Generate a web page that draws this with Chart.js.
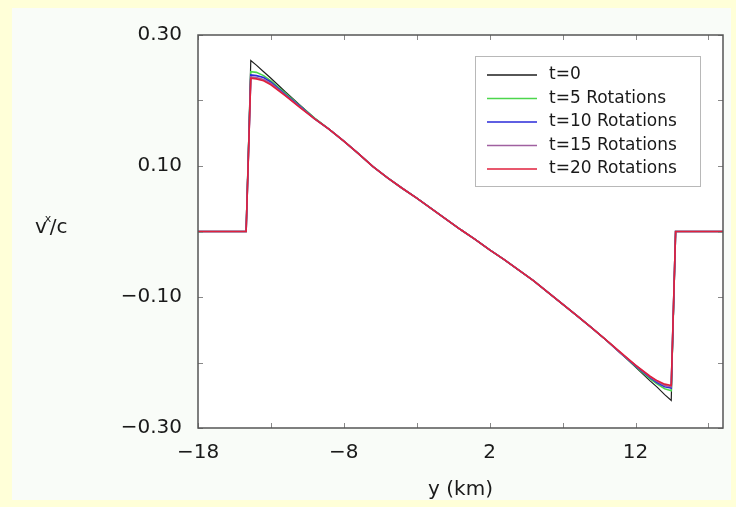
<!DOCTYPE html>
<html>
  <head>
    <title>v^x/c profile</title>
    <script src="https://cdn.jsdelivr.net/npm/chart.js"></script>
    <style>
      body {
        margin: 0;
        background: #ffffd8;
      }
      canvas {
        display: block;
      }
    </style>
  </head>
  <body>
    <canvas id="chart" width="736" height="507"></canvas>

    <script>
      // posiciones y (km) compartidas por todas las curvas
      const yKm = [-18, -14.7, -14.38, -14, -13.5, -13, -12, -11, -10, -9, -8, -7, -6, -5, -4, -3, -2, -1, 0,
        1, 2, 3, 4, 5, 6, 7, 8, 9, 10, 11, 12, 13, 13.5, 14, 14.45, 14.75, 18];

      const vT0 = [0, 0, 0.261, 0.254, 0.244, 0.234, 0.213, 0.193, 0.173, 0.156, 0.138, 0.119, 0.099, 0.082,
        0.066, 0.051, 0.035, 0.019, 0.003, -0.012, -0.028, -0.043, -0.059, -0.075, -0.093, -0.111, -0.129,
        -0.147, -0.166, -0.186, -0.207, -0.228, -0.238, -0.249, -0.258, 0, 0];
      const vT5 = [0, 0, 0.244, 0.243, 0.238, 0.230, 0.211, 0.192, 0.173, 0.156, 0.138, 0.119, 0.099, 0.082,
        0.066, 0.051, 0.035, 0.019, 0.003, -0.012, -0.028, -0.043, -0.059, -0.075, -0.093, -0.111, -0.129,
        -0.147, -0.166, -0.186, -0.206, -0.225, -0.233, -0.240, -0.243, 0, 0];
      const vT10 = [0, 0, 0.239, 0.238, 0.235, 0.228, 0.209, 0.191, 0.172, 0.156, 0.138, 0.119, 0.099, 0.082,
        0.066, 0.051, 0.035, 0.019, 0.003, -0.012, -0.028, -0.043, -0.059, -0.075, -0.093, -0.111, -0.129,
        -0.147, -0.166, -0.186, -0.205, -0.223, -0.231, -0.237, -0.239, 0, 0];
      const vT15 = [0, 0, 0.236, 0.235, 0.232, 0.226, 0.208, 0.190, 0.172, 0.156, 0.138, 0.119, 0.099, 0.082,
        0.066, 0.051, 0.035, 0.019, 0.003, -0.012, -0.028, -0.043, -0.059, -0.075, -0.093, -0.111, -0.129,
        -0.147, -0.166, -0.186, -0.204, -0.222, -0.229, -0.235, -0.237, 0, 0];
      const vT20 = [0, 0, 0.234, 0.233, 0.230, 0.224, 0.207, 0.189, 0.172, 0.156, 0.138, 0.119, 0.099, 0.082,
        0.066, 0.051, 0.035, 0.019, 0.003, -0.012, -0.028, -0.043, -0.059, -0.075, -0.093, -0.111, -0.129,
        -0.147, -0.166, -0.185, -0.204, -0.221, -0.228, -0.233, -0.235, 0, 0];

      const seriesLabels = ["t=0", "t=5 Rotations", "t=10 Rotations", "t=15 Rotations", "t=20 Rotations"];
      const seriesValues = [vT0, vT5, vT10, vT15, vT20];
      const seriesColors = ["#1e1e1e", "#4cd64c", "#2a2ad8", "#a060a0", "#e0203c"];

      const xTickValues = [-18, -13, -8, -3, 2, 7, 12, 17];
      const xTickLabeled = [-18, -8, 2, 12];
      const yTickValues = [-0.3, -0.2, -0.1, 0, 0.1, 0.2, 0.3];
      const yTickLabeled = [0.3, 0.1, -0.1, -0.3];

      const FONT = "'DejaVu Sans', 'Liberation Sans', Arial, sans-serif";

      function has(list, v) {
        return list.some((a) => Math.abs(a - v) < 1e-9);
      }

      // fondo, marco, marcas hacia dentro, leyenda y título del eje y
      const framePlugin = {
        id: "frame",
        beforeDraw(chart) {
          const c = chart.ctx;
          const a = chart.chartArea;
          c.save();
          c.fillStyle = "#ffffd8";
          c.fillRect(0, 0, chart.width, chart.height);
          c.fillStyle = "#f9fcf8";
          c.fillRect(12, 8, 719, 492);
          c.fillStyle = "#ffffff";
          c.fillRect(a.left, a.top, a.right - a.left, a.bottom - a.top);
          c.restore();
        },
        afterDraw(chart) {
          const c = chart.ctx;
          const a = chart.chartArea;
          const xs = chart.scales.x;
          const ys = chart.scales.y;
          c.save();

          // marcas
          c.strokeStyle = "#888";
          c.lineWidth = 1;
          c.beginPath();
          xs.ticks.forEach((t) => {
            const px = Math.round(xs.getPixelForValue(t.value)) + 0.5;
            c.moveTo(px, a.bottom);
            c.lineTo(px, a.bottom - 5);
            c.moveTo(px, a.top);
            c.lineTo(px, a.top + 5);
          });
          ys.ticks.forEach((t) => {
            const py = Math.round(ys.getPixelForValue(t.value)) + 0.5;
            c.moveTo(a.left, py);
            c.lineTo(a.left + 5, py);
            c.moveTo(a.right, py);
            c.lineTo(a.right - 5, py);
          });
          c.stroke();

          // marco
          c.strokeStyle = "#555";
          c.lineWidth = 1.5;
          c.strokeRect(a.left, a.top, a.right - a.left, a.bottom - a.top);

          // leyenda
          c.fillStyle = "#ffffff";
          c.fillRect(475, 56, 225, 130);
          c.strokeStyle = "#b8b8b8";
          c.lineWidth = 1;
          c.strokeRect(475.5, 56.5, 225, 130);
          c.font = "17px " + FONT;
          c.textBaseline = "middle";
          c.textAlign = "left";
          chart.data.datasets.forEach((ds, i) => {
            const ry = 75 + i * 23.5;
            c.strokeStyle = ds.borderColor;
            c.lineWidth = 1.5;
            c.beginPath();
            c.moveTo(487, ry);
            c.lineTo(537, ry);
            c.stroke();
            c.fillStyle = "#1a1a1a";
            c.fillText(ds.label, 549, ry);
          });

          // título del eje y: v^x/c
          c.fillStyle = "#1a1a1a";
          c.textBaseline = "alphabetic";
          c.font = "20px " + FONT;
          c.fillText("v", 35, 233);
          const vw = c.measureText("v").width;
          c.font = "11px " + FONT;
          c.fillText("x", 35 + vw - 2, 222);
          c.font = "20px " + FONT;
          c.fillText("/c", 35 + vw + 3, 233);

          c.restore();
        },
      };

      const ctx = document.getElementById("chart").getContext("2d");
      new Chart(ctx, {
        type: "line",
        data: {
          datasets: seriesLabels.map((label, i) => ({
            label: label,
            data: yKm.map((x, k) => ({ x: x, y: seriesValues[i][k] })),
            borderColor: seriesColors[i],
            borderWidth: i === 0 ? 1.2 : 1.6,
            pointRadius: 0,
            tension: 0,
            fill: false,
            order: seriesLabels.length - 1 - i,
          })),
        },
        options: {
          responsive: false,
          animation: false,
          layout: { padding: { left: 0, right: 13, top: 35, bottom: 0 } },
          plugins: {
            legend: { display: false },
            tooltip: { enabled: false },
          },
          scales: {
            x: {
              type: "linear",
              min: -18,
              max: 18,
              afterBuildTicks: (s) => {
                s.ticks = xTickValues.map((v) => ({ value: v }));
              },
              afterFit: (s) => {
                s.height = 79;
              },
              grid: { display: false, drawTicks: false },
              border: { display: false },
              ticks: {
                autoSkip: false,
                maxRotation: 0,
                padding: 13,
                color: "#1a1a1a",
                font: { family: FONT, size: 20 },
                callback: (v) => (has(xTickLabeled, v) ? String(v).replace("-", "\u2212") : ""),
              },
              title: {
                display: true,
                text: "y (km)",
                color: "#1a1a1a",
                font: { family: FONT, size: 20 },
                padding: { top: 0, bottom: 5 },
              },
            },
            y: {
              type: "linear",
              min: -0.3,
              max: 0.3,
              afterBuildTicks: (s) => {
                s.ticks = yTickValues.map((v) => ({ value: v }));
              },
              afterFit: (s) => {
                s.width = 198;
              },
              grid: { display: false, drawTicks: false },
              border: { display: false },
              ticks: {
                autoSkip: false,
                padding: 16,
                color: "#1a1a1a",
                font: { family: FONT, size: 20 },
                callback: (v) => (has(yTickLabeled, v) ? v.toFixed(2).replace("-", "\u2212") : ""),
              },
            },
          },
        },
        plugins: [framePlugin],
      });
    </script>
  </body>
</html>
